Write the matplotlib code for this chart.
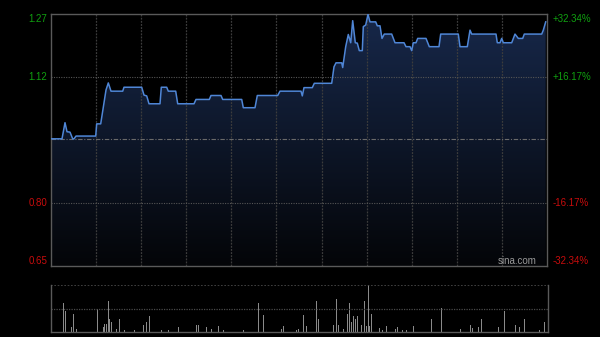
import numpy as np
import matplotlib.pyplot as plt
from matplotlib.patches import Polygon
from matplotlib.colors import LinearSegmentedColormap

# --- data (time in chart units 0..496, price in HKD) ---
prev_close = 0.963
t = [0, 11, 14, 16, 19, 21.7, 23, 25, 44.7, 45.7, 49.7, 55, 57.3, 60, 71.7, 73, 90.7,
     93, 95.7, 98, 109, 110.3, 115.7, 117.3, 124.7, 126.7, 143, 145, 158.3, 160, 170,
     171.7, 190.7, 192.3, 204, 206.3, 226.7, 229, 250, 251.3, 253, 261.3, 263.3, 280.7,
     283, 285, 290.7, 291.7, 294.7, 297.3, 299.7, 301.7, 304.3, 306.3, 308.3, 311.3,
     312.3, 314.7, 317, 319, 324.7, 326.3, 329, 331, 333.3, 340.7, 344, 353, 355, 359,
     360.7, 362.3, 365, 366.7, 375, 378.3, 388, 389.7, 407.3, 409, 416.3, 419, 420.7,
     445, 446.3, 449, 450.7, 452.3, 460.7, 464, 467.3, 471.7, 473.3, 490.7, 492.3, 494.7]
price = [0.963, 0.963, 1.004, 0.981, 0.980, 0.963, 0.963, 0.970, 0.970, 1.001, 1.001,
         1.087, 1.105, 1.084, 1.084, 1.094, 1.094, 1.074, 1.072, 1.052, 1.052, 1.094,
         1.094, 1.084, 1.084, 1.052, 1.052, 1.063, 1.063, 1.073, 1.073, 1.063, 1.063,
         1.042, 1.042, 1.073, 1.073, 1.084, 1.084, 1.072, 1.093, 1.093, 1.104, 1.104,
         1.146, 1.156, 1.156, 1.144, 1.197, 1.228, 1.207, 1.263, 1.207, 1.206, 1.187,
         1.187, 1.248, 1.252, 1.279, 1.260, 1.260, 1.250, 1.250, 1.218, 1.229, 1.229,
         1.207, 1.207, 1.197, 1.197, 1.187, 1.207, 1.207, 1.218, 1.218, 1.197, 1.197,
         1.229, 1.229, 1.197, 1.197, 1.239, 1.229, 1.229, 1.207, 1.207, 1.218, 1.207,
         1.207, 1.229, 1.218, 1.218, 1.229, 1.229, 1.239, 1.260]

vol_t = [12, 12.7, 14.3, 16, 20.3, 22.7, 25.3, 46, 52, 53.7, 55.3, 57, 58, 60.3, 65.3, 68,
         73, 83, 92.7, 95.3, 98, 110.3, 117.7, 127.3, 129.7, 136.7, 145, 147.3, 149.7,
         155, 160, 167.3, 172.3, 192.3, 207.3, 211.7, 230, 232.3, 244.7, 247.3, 252.3,
         254.7, 264.7, 267.3, 282.3, 284.7, 286.7, 292.3, 295.7, 298, 300, 302.3, 304,
         305.7, 309.7, 313.3, 314.7, 316.7, 318.3, 320, 328, 330.7, 334.7, 337.3, 344,
         345.7, 347.3, 350.7, 355, 361.7, 367.3, 379.7, 389.7, 409, 419, 420.7, 426.3,
         430, 446.7, 452.3, 464, 467.3, 472.3, 474, 487.3, 492.3]
volume = [5, 29, 20.7, 5, 5, 17.7, 3, 23.3, 5, 8, 8, 31, 12.7, 10, 3, 13, 2, 2, 7, 10, 16,
          2, 2, 5, 9, 4, 7, 7, 2, 5, 3, 6, 2, 2, 29, 17.3, 3, 6, 2, 3, 17.3, 6, 31, 13.3,
          7, 33.3, 7, 3, 17.7, 29, 10, 16, 13.3, 16, 7, 31, 6, 47, 6, 17.7, 4, 2, 6, 3, 3,
          5, 6, 2, 2, 6, 2, 13.3, 24, 3, 7, 4, 5, 13.3, 5, 21, 7, 5, 12.7, 3, 2, 10]

left_labels = ['1.27', '1.12', '0.80', '0.65']
right_labels = ['+32.34%', '+16.17%', '-16.17%', '-32.34%']
label_y = [1.267, 1.12, 0.80, 0.653]
label_colors = ['#10a010', '#10a010', '#c80c0c', '#c80c0c']

plt.rcParams['font.family'] = ['Liberation Sans', 'DejaVu Sans']
fig = plt.figure(figsize=(6, 3.37), dpi=100, facecolor='black')

x0, x1 = 0, 496
ylo, yhi = 0.64, 1.28
grid_x = np.linspace(x0, x1, 12)[1:-1]
border = '#5a5a5a'

# --- price panel ---
ax = fig.add_axes([51 / 600, 1 - 266 / 337, 496 / 600, 252 / 337])
ax.set_facecolor('black')
ax.set_xlim(x0, x1)
ax.set_ylim(ylo, yhi)

# gradient fill under the price line
cmap = LinearSegmentedColormap.from_list('fill', ['#040508', '#17284a'])
grad = np.linspace(0, 1, 256).reshape(-1, 1)
im = ax.imshow(grad, cmap=cmap, extent=[x0, x1, ylo, yhi], aspect='auto',
               origin='lower', zorder=1)
verts = [(t[0], ylo)] + list(zip(t, price)) + [(t[-1], ylo)]
poly = Polygon(verts, closed=True, facecolor='none', edgecolor='none')
ax.add_patch(poly)
im.set_clip_path(poly)

for gx in grid_x:
    ax.axvline(gx, color='#3c3c3c', lw=0.9, ls=(0, (1.5, 1)), zorder=2)
for gy in [1.12, 0.80]:
    ax.axhline(gy, color='#555555', lw=0.8, ls=(0, (1, 1.2)), zorder=2)
ax.axhline(prev_close, color='#6a6a6a', lw=0.8, ls=(0, (4, 1.5, 1, 1.5)), zorder=2)

ax.plot(t, price, color='#4f86d6', lw=1.1, zorder=3)

for s in ax.spines.values():
    s.set_color(border)
    s.set_linewidth(1)
ax.set_xticks([])
ax.set_yticks([])

for lab, rl, yv, c in zip(left_labels, right_labels, label_y, label_colors):
    ax.text(-4, yv, lab, color=c, fontsize=7, ha='right', va='center', clip_on=False)
    ax.text(x1 + 6, yv, rl, color=c, fontsize=7, ha='left', va='center', clip_on=False)

ax.text(486, 0.653, 'sina.com', color='#9a9a9a', fontsize=7, ha='right',
        va='center', zorder=4)

# --- volume panel ---
vax = fig.add_axes([51 / 600, 1 - 332 / 337, 497 / 600, 47 / 337])
vax.set_facecolor('black')
vax.set_xlim(x0, x1)
vax.set_ylim(0, 47)
vax.bar(vol_t, volume, width=0.9, color='#8a8a8a', linewidth=0)
vax.axhline(23.5, color='#4a4a4a', lw=0.9, ls=(0, (1, 1)))
vax.axhline(47, color='#4a4a4a', lw=1.2, ls=(0, (1, 1)))
for s in vax.spines.values():
    s.set_color(border)
    s.set_linewidth(1)
vax.spines['top'].set_visible(False)
vax.set_xticks([])
vax.set_yticks([])

fig.savefig('out.png', dpi=100, facecolor='black')
